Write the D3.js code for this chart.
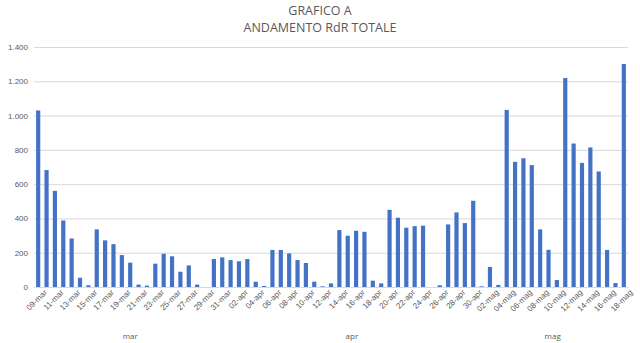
<!DOCTYPE html>
<html>
<head>
<meta charset="utf-8">
<script src="https://cdn.jsdelivr.net/npm/d3@7"></script>
<style>
  body { margin: 0; background: #fff; }
  svg { display: block; font-family: "Open Sans", "Liberation Sans", sans-serif; }
  .grid line { stroke: #d9d9d9; stroke-width: 1; }
  .grid path { display: none; }
  .axis-y text { fill: #595959; font-size: 8px; }
  .axis-x text { fill: #595959; font-size: 8px; }
</style>
</head>
<body>
<div class="svg-container"></div>
<script>
var width = 640,
    height = 343;

// giorni dal 09-mar al 18-mag
var days = [
  "09-mar","10-mar","11-mar","12-mar","13-mar","14-mar","15-mar","16-mar","17-mar","18-mar",
  "19-mar","20-mar","21-mar","22-mar","23-mar","24-mar","25-mar","26-mar","27-mar","28-mar",
  "29-mar","30-mar","31-mar",
  "01-apr","02-apr","03-apr","04-apr","05-apr","06-apr","07-apr","08-apr","09-apr","10-apr",
  "11-apr","12-apr","13-apr","14-apr","15-apr","16-apr","17-apr","18-apr","19-apr","20-apr",
  "21-apr","22-apr","23-apr","24-apr","25-apr","26-apr","27-apr","28-apr","29-apr","30-apr",
  "01-mag","02-mag","03-mag","04-mag","05-mag","06-mag","07-mag","08-mag","09-mag","10-mag",
  "11-mag","12-mag","13-mag","14-mag","15-mag","16-mag","17-mag","18-mag"
];

var values = [
  1030, 682, 561, 388, 283, 54, 10, 336, 272, 250,
  186, 142, 14, 8, 136, 194, 179, 89, 126, 14,
  0, 163, 173,
  157, 150, 163, 31, 6, 216, 216, 196, 157, 140,
  31, 4, 21, 332, 299, 328, 322, 37, 21, 450,
  404, 346, 355, 358, 0, 10, 365, 435, 373, 503,
  4, 117, 12, 1033, 730, 751, 711, 336, 217, 41,
  1219, 837, 724, 814, 674, 216, 23, 1301
];

var months = ["mar", "apr", "mag"];
var yTicks = [0, 200, 400, 600, 800, 1000, 1200, 1400];
var titleLines = ["GRAFICO A", "ANDAMENTO RdR TOTALE"];

var svg = d3.select(".svg-container")
    .append("svg")
    .attr("width", width)
    .attr("height", height);

var margin = { top: 47, right: 12, bottom: 56, left: 34 };
var chartWidth = width - margin.left - margin.right;
var chartHeight = height - margin.top - margin.bottom;

var g = svg.append("g")
    .attr("transform", `translate(${margin.left}, ${margin.top})`);

var xScale = d3.scaleBand()
    .domain(days)
    .range([0, chartWidth])
    .paddingInner(0.5)
    .paddingOuter(0.25);

var yScale = d3.scaleLinear()
    .domain([0, 1400])
    .range([chartHeight, 0]);

var fmt = d3.formatLocale({ decimal: ",", thousands: ".", grouping: [3], currency: ["€", ""] }).format(",d");

// griglia
g.append("g")
    .attr("class", "grid")
    .call(d3.axisLeft(yScale).tickValues(yTicks).tickSize(-chartWidth).tickFormat(""));

// asse y
g.append("g")
    .attr("class", "axis-y")
    .call(d3.axisLeft(yScale).tickValues(yTicks).tickSize(0).tickPadding(6).tickFormat(fmt))
    .call(a => a.select(".domain").remove());

// barre
g.selectAll(".bar")
    .data(days)
    .enter()
    .append("rect")
    .attr("class", "bar")
    .attr("x", d => xScale(d))
    .attr("width", xScale.bandwidth())
    .attr("y", (d, i) => yScale(values[i]))
    .attr("height", (d, i) => yScale(0) - yScale(values[i]))
    .attr("fill", "#4472C4");

// asse x, un'etichetta ogni due giorni
var xAxis = d3.axisBottom(xScale)
    .tickValues(days.filter((d, i) => i % 2 == 0))
    .tickSize(0)
    .tickPadding(6);

g.append("g")
    .attr("class", "axis-x")
    .attr("transform", `translate(0, ${chartHeight})`)
    .call(xAxis)
    .call(a => a.select(".domain").attr("stroke", "#d9d9d9"))
    .selectAll("text")
    .attr("text-anchor", "end")
    .attr("dx", "0.3em")
    .attr("dy", "0.6em")
    .attr("transform", "rotate(-45)");

// etichette dei mesi
months.forEach(function(m) {
    var idx = days.map((d, i) => i).filter(i => days[i].slice(3) == m);
    var x0 = xScale(days[idx[0]]),
        x1 = xScale(days[idx[idx.length - 1]]) + xScale.bandwidth();
    g.append("text")
        .attr("x", (x0 + x1) / 2)
        .attr("y", chartHeight + 52)
        .attr("text-anchor", "middle")
        .attr("fill", "#595959")
        .style("font-size", "8px")
        .text(m);
});

// titolo
svg.selectAll(".title")
    .data(titleLines)
    .enter()
    .append("text")
    .attr("class", "title")
    .attr("x", width / 2)
    .attr("y", (d, i) => 15 + i * 17)
    .attr("text-anchor", "middle")
    .attr("fill", "#595959")
    .style("font-size", "12.5px")
    .text(d => d);
</script>
</body>
</html>
